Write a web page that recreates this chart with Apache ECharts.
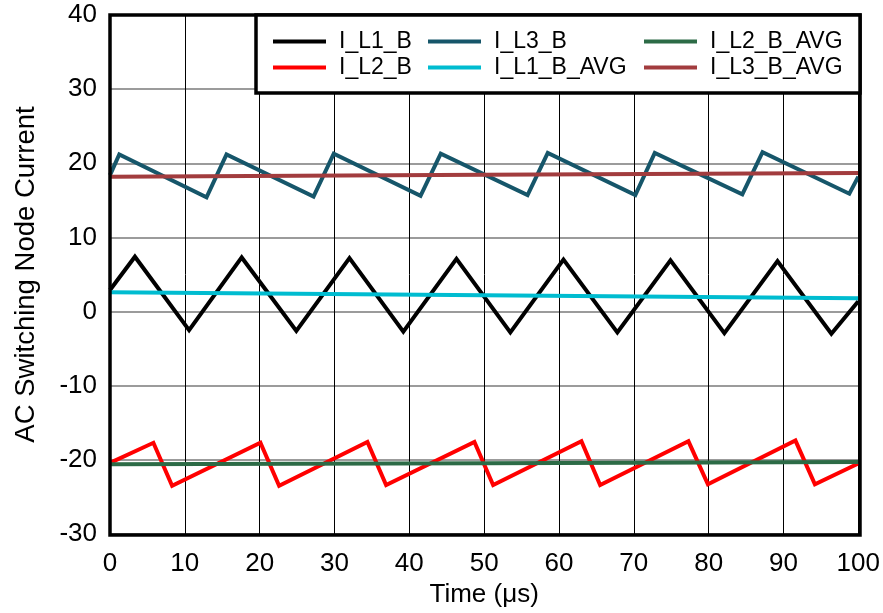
<!DOCTYPE html>
<html>
<head>
<meta charset="utf-8">
<script src="https://cdn.jsdelivr.net/npm/echarts@6/dist/echarts.min.js"></script>
<style>html,body{margin:0;padding:0;background:#fff}#c{width:883px;height:613px}</style>
</head>
<body>
<div id="c"></div>
<script>
const xTicks = [0,10,20,30,40,50,60,70,80,90,100];
const yTicks = [-30,-20,-10,0,10,20,30,40];
const seriesNames = ['I_L1_B','I_L2_B','I_L3_B','I_L1_B_AVG','I_L2_B_AVG','I_L3_B_AVG'];
const seriesColors = ['#000000','#ff0000','#16566a','#00bcd0','#2c6b46','#a23c3e'];

const I_L1_B = [[0,2.9],[3.33,7.4],[10.57,-2.5],[17.6,7.3],[24.9,-2.6],[32.0,7.2],[39.2,-2.7],[46.3,7.1],[53.5,-2.8],[60.6,7.0],[67.8,-2.8],[74.9,6.9],[82.1,-2.9],[89.2,6.8],[96.4,-3.0],[100,1.4]];
const I_L2_B = [[0,-20.4],[5.8,-17.7],[8.3,-23.5],[20.1,-17.7],[22.6,-23.5],[34.4,-17.6],[36.9,-23.4],[48.7,-17.6],[51.2,-23.4],[63.0,-17.5],[65.5,-23.4],[77.3,-17.5],[79.9,-23.3],[91.6,-17.4],[94.2,-23.3],[100,-20.5]];
const I_L3_B = [[0,18.4],[1.24,21.2],[12.9,15.4],[15.57,21.2],[27.2,15.5],[29.9,21.3],[41.5,15.6],[44.2,21.3],[55.8,15.7],[58.5,21.4],[70.2,15.7],[72.8,21.4],[84.5,15.8],[87.2,21.5],[98.8,15.9],[100,18.2]];
const I_L1_B_AVG = [[0,2.6],[50,2.2],[100,1.8]];
const I_L2_B_AVG = [[0,-20.6],[50,-20.45],[100,-20.3]];
const I_L3_B_AVG = [[0,18.2],[50,18.45],[100,18.7]];
const seriesData = [I_L1_B, I_L2_B, I_L3_B, I_L1_B_AVG, I_L2_B_AVG, I_L3_B_AVG];

const FONT = 'Liberation Sans, Arial, sans-serif';
const G = {left:110, top:15, right:23, bottom:78};
const W = 883, H = 613;

const chart = echarts.init(document.getElementById('c'), null, {renderer:'canvas'});

function legendCol(names, left) {
  return {
    orient:'vertical', left:left, top:25, z:30,
    data: names, icon:'rect', itemWidth:53, itemHeight:4, itemGap:3,
    textStyle:{fontFamily:FONT, fontSize:23, color:'#000', padding:[0,0,0,8]},
    selectedMode:false
  };
}

chart.setOption({
  animation:false,
  backgroundColor:'#fff',
  color: seriesColors,
  grid:{left:G.left, top:G.top, right:G.right, bottom:G.bottom, containLabel:false},
  legend:[
    legendCol(['I_L1_B','I_L2_B'], 268),
    legendCol(['I_L3_B','I_L1_B_AVG'], 423),
    legendCol(['I_L2_B_AVG','I_L3_B_AVG'], 639)
  ],
  xAxis:{
    type:'value', min:0, max:100, interval:10,
    name:'Time (μs)', nameLocation:'middle', nameGap:48,
    nameTextStyle:{fontFamily:FONT, fontSize:26, color:'#000'},
    axisLine:{show:false}, axisTick:{show:false},
    axisLabel:{fontFamily:FONT, fontSize:26, color:'#000', margin:17},
    splitLine:{show:true, lineStyle:{color:'#000', width:1}}
  },
  yAxis:{
    type:'value', min:-30, max:40, interval:10,
    name:'AC Switching Node Current', nameLocation:'middle', nameGap:70,
    nameTextStyle:{fontFamily:FONT, fontSize:27.5, color:'#000'},
    axisLine:{show:false}, axisTick:{show:false},
    axisLabel:{fontFamily:FONT, fontSize:26, color:'#000', margin:13},
    splitLine:{show:true, lineStyle:{color:'#7a7a7a', width:1.5}}
  },
  series: seriesNames.map((n,i)=>({
    name:n, type:'line', data:seriesData[i], showSymbol:false, symbol:'none',
    lineStyle:{width:4, color:seriesColors[i], join:'miter'},
    itemStyle:{color:seriesColors[i]},
    z: 2 + i, clip:true
  })),
  graphic:[
    {type:'rect', z:10, silent:true,
     shape:{x:G.left, y:G.top, width:W-G.left-G.right, height:H-G.top-G.bottom},
     style:{fill:null, stroke:'#000', lineWidth:3.5}},
    {type:'rect', z:12, silent:true,
     shape:{x:256, y:G.top, width:W-G.right-256, height:78},
     style:{fill:'#fff', stroke:'#000', lineWidth:3.5}}
  ]
});
</script>
</body>
</html>
